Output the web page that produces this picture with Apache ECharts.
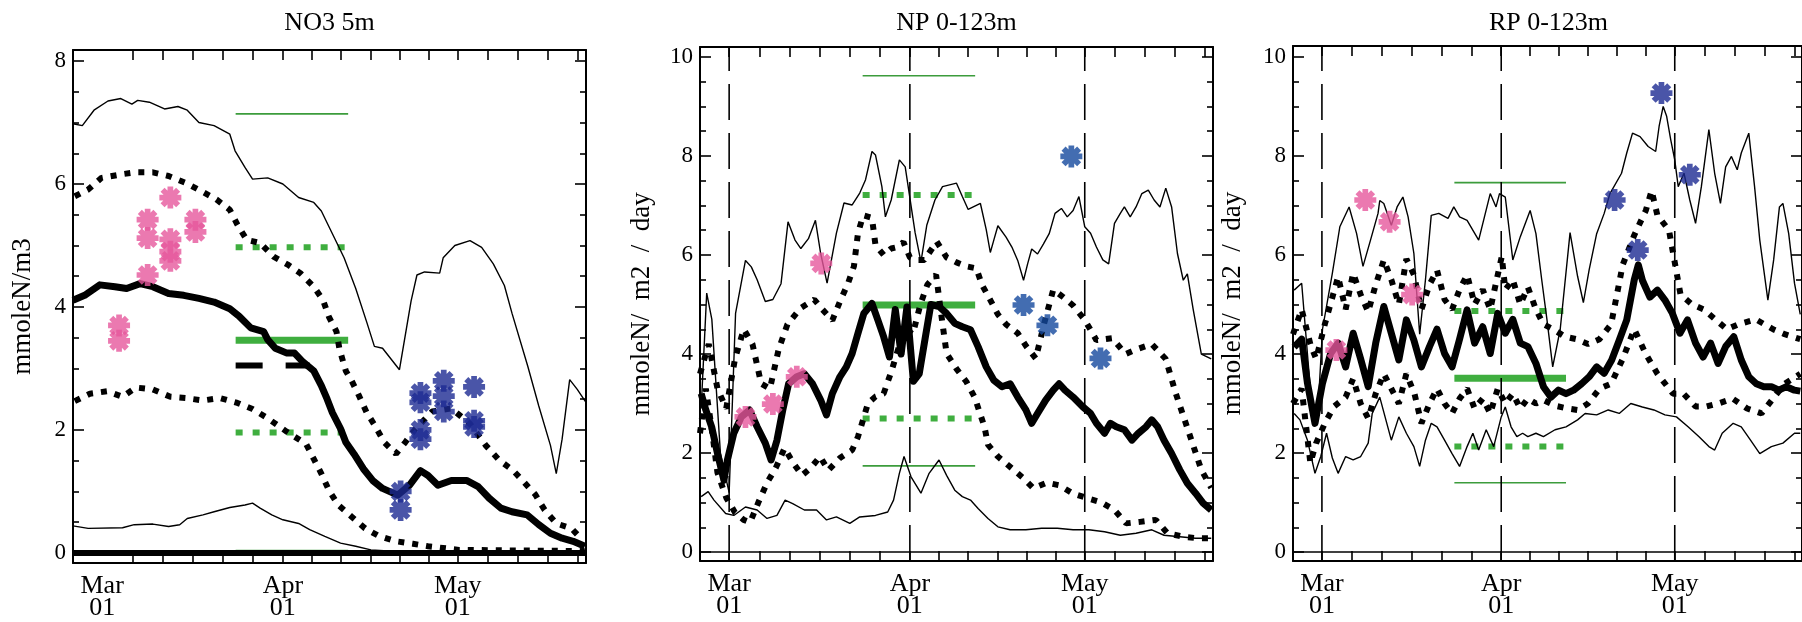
<!DOCTYPE html>
<html>
<head>
<meta charset="utf-8">
<script src="https://cdn.jsdelivr.net/npm/echarts@6/dist/echarts.min.js"></script>
<style>
  html, body { margin: 0; padding: 0; background: #fff; }
  #chart { width: 1802px; height: 622px; }
</style>
</head>
<body>
<div id="chart"></div>
<script>
// ---- time axis (days counted from 1 March) ----
const monthDays = [0, 31, 61];
const monthLabels = ['Mar\n01', 'Apr\n01', 'May\n01'];
const tickDays = [0, 5.17, 10.33, 15.5, 20.67, 25.83, 31, 36, 41, 46, 51, 56, 61, 66.17, 71.33, 76.5, 81.67];
const tickDaysNO3 = [5.17, 10.33, 15.5, 20.67, 25.83, 31, 36, 41, 46, 51, 56, 61, 66.17, 71.33, 76.5, 81.67];

// ---- NO3 5m ----
const no3Max = [[-5,6.98],[-3.4,6.95],[-1.4,7.2],[1,7.35],[3.2,7.39],[5.1,7.3],[6.1,7.36],[8.1,7.33],[10.7,7.22],[13,7.26],[14.6,7.2],[16.6,7.0],[19.2,6.95],[21.9,6.81],[22.8,6.54],[24.5,6.27],[25.8,6.08],[28.4,6.1],[31,6.0],[33.7,5.78],[36.3,5.7],[37.6,5.56],[39.6,5.17],[41.5,4.8],[43.5,4.3],[45.4,3.75],[46.7,3.36],[48.1,3.33],[51,2.98],[53,4.1],[54,4.52],[55.3,4.57],[57.9,4.55],[58.5,4.8],[60.5,5.0],[63.1,5.08],[65.1,4.97],[67.1,4.7],[69,4.35],[70.3,3.9],[73,3.04],[74.9,2.39],[76.9,1.75],[77.9,1.29],[78.9,1.85],[80.2,2.82],[81.5,2.66],[83,2.45]];
const no3Min = [[-5,0.44],[-2.4,0.40],[3.5,0.41],[5.5,0.46],[8.7,0.47],[11.4,0.43],[13.3,0.46],[14.6,0.56],[17.3,0.62],[19.2,0.67],[21.9,0.74],[24.5,0.78],[25.8,0.81],[27.1,0.73],[29.1,0.62],[31,0.54],[33.7,0.48],[35.6,0.38],[38.2,0.27],[40.9,0.16],[43.5,0.11],[46.1,0.05],[51.3,0.02],[54.6,0],[83,0]];
const no3Hi = [[-4.7,5.8],[-2.4,5.91],[-0.1,6.1],[3.5,6.16],[5.8,6.19],[8.7,6.19],[11.4,6.13],[14.3,6.02],[16.9,5.89],[19.6,5.75],[21.9,5.58],[23.2,5.34],[24.8,5.09],[27.1,5.04],[29.4,4.82],[32,4.68],[34,4.55],[36.3,4.33],[37.9,4.11],[38.9,3.84],[40.2,3.6],[40.7,3.32],[41.8,2.96],[42.8,2.8],[44.1,2.55],[45.4,2.28],[46.8,2.07],[48.4,1.8],[50.4,1.61],[52,1.8],[53.6,2.0],[56.6,2.3],[59.9,2.35],[63.1,2.1],[65.8,1.75],[68.1,1.51],[70.4,1.35],[72.3,1.16],[74.3,0.95],[75.9,0.7],[77.9,0.48],[80.5,0.4],[82.1,0.24]];
const no3Lo = [[-4.7,2.47],[-2.1,2.59],[0.9,2.63],[3.5,2.54],[5.8,2.69],[8.7,2.66],[11.7,2.54],[14.3,2.52],[17.3,2.48],[20.2,2.52],[23.2,2.44],[25.8,2.34],[28.4,2.19],[31.7,1.97],[35,1.77],[36.3,1.53],[37.6,1.29],[38.9,1.02],[40.5,0.78],[42.8,0.59],[45.1,0.4],[47.4,0.28],[50.4,0.19],[53.3,0.15],[55.9,0.11],[61.2,0.05],[82.8,0.03]];
const no3Med = [[-5,4.11],[-3,4.19],[-0.4,4.36],[2.2,4.33],[4.2,4.3],[6.5,4.38],[8.7,4.33],[11.4,4.22],[14,4.19],[16.6,4.14],[19.2,4.08],[21.9,3.97],[23.5,3.85],[25.5,3.66],[27.7,3.6],[28.4,3.47],[29.7,3.33],[31.7,3.25],[33,3.25],[34.3,3.12],[36.3,2.96],[37.6,2.72],[38.6,2.5],[39.5,2.28],[40.9,2.02],[41.8,1.8],[43.2,1.61],[44.8,1.37],[46.4,1.18],[48.1,1.05],[50.7,0.94],[52.7,1.1],[54.6,1.34],[55.9,1.26],[57.6,1.1],[59.9,1.18],[62.5,1.18],[64.5,1.08],[66.4,0.89],[68.4,0.73],[70.3,0.67],[72.9,0.62],[74.9,0.46],[76.9,0.32],[78.9,0.24],[80.8,0.19],[82.8,0.11]];
const no3Ref = [[22.9,3.05],[35.6,3.05]];
const no3Green = [7.14, 4.97, 3.46, 1.96, 0.04];
const no3Pink = [[2.9,3.7],[2.9,3.45],[7.8,5.42],[7.8,5.12],[7.8,4.52],[11.7,5.78],[11.7,5.1],[11.7,4.9],[11.7,4.75],[16,5.42],[16,5.22]];
const no3Blue = [[51.2,1.0],[51.2,0.7],[54.6,2.6],[54.6,2.45],[54.6,2.0],[54.6,1.85],[58.6,2.8],[58.6,2.55],[58.6,2.3],[63.8,2.7],[63.8,2.15],[63.8,2.05]];

// ---- NP 0-123m ----
const npMax = [[-4.8,2.9],[-3.85,5.23],[-2.97,4.7],[-1.5,2.0],[0,1.2],[1.1,4.82],[2.8,5.89],[3.8,5.76],[4.8,5.5],[6.2,5.06],[7.5,5.1],[8.9,5.42],[10.1,6.67],[11.3,6.3],[12.3,6.13],[13.6,6.33],[14.8,6.7],[15.7,6.03],[16.8,5.43],[18.4,6.44],[19.7,7.05],[21.1,7.01],[22.4,7.25],[23.4,7.52],[24.5,8.09],[25.1,8.02],[26.2,7.38],[26.8,6.77],[27.8,7.11],[29.2,7.92],[30.2,7.78],[31.9,6.45],[32.9,5.86],[33.9,6.6],[35.3,7.11],[36.6,7.38],[39,7.45],[40,7.18],[41,6.92],[43.1,7.04],[44.1,6.51],[44.8,6.05],[45.4,6.3],[46.1,6.59],[47.5,6.36],[48.5,6.16],[49.5,5.89],[50.5,5.49],[51.2,5.82],[51.9,6.12],[52.9,6.02],[53.9,6.22],[54.9,6.43],[55.9,6.84],[57,6.94],[58,6.77],[59,6.9],[60,7.18],[61,6.57],[62,6.44],[63,6.16],[64.1,5.9],[65.1,5.82],[66.1,6.64],[67.1,6.84],[67.8,6.97],[68.8,6.77],[69.8,6.97],[70.8,7.24],[71.9,7.31],[72.9,7.11],[73.9,6.97],[74.9,7.35],[75.9,6.97],[76.9,6.03],[77.9,5.49],[78.6,5.62],[79.6,4.9],[81,4.0],[82.7,3.9]];
const npMin = [[-4.8,1.12],[-3.6,1.22],[-2.6,1.05],[-0.6,0.78],[0.8,0.74],[2.8,0.91],[4.8,0.85],[6.5,0.68],[8.2,0.74],[9.6,1.05],[10.9,0.98],[12.9,0.85],[15,0.85],[16.7,0.65],[18.4,0.71],[20.7,0.58],[22.4,0.71],[25.1,0.74],[27.2,0.81],[28.2,1.05],[29.2,1.59],[30,1.93],[31.2,1.52],[32.9,1.19],[34.3,1.59],[36,1.86],[37.3,1.55],[38.7,1.25],[40,1.12],[41.4,1.05],[42.7,0.88],[44.4,0.68],[46.1,0.51],[48.2,0.45],[50.9,0.45],[53.6,0.48],[56.3,0.48],[59,0.45],[61.7,0.45],[64.4,0.41],[67.1,0.34],[69.8,0.38],[72.5,0.45],[74.6,0.34],[77.3,0.31],[80,0.28],[82.7,0.28]];
const npHi = [[-5,3.6],[-3.5,4.2],[-2,3.3],[-0.5,2.9],[1,3.9],[2.5,4.5],[4,4.2],[5.5,3.4],[7,3.3],[8.5,4.1],[10,4.6],[12.3,4.93],[14.6,5.1],[16,4.9],[17.7,4.68],[19,5.06],[20.4,5.43],[21.4,5.77],[22.1,6.44],[23,6.8],[24.5,6.75],[25.1,6.2],[26.5,6.0],[27.8,6.13],[28.9,6.16],[29.9,6.26],[31,5.95],[32,5.9],[33.5,5.9],[35.6,6.27],[37.3,5.95],[39,5.85],[40.7,5.77],[42.4,5.73],[43.4,5.39],[44.8,5.09],[46.1,4.8],[47.5,4.6],[49.5,4.42],[51,4.15],[52.6,3.91],[54,4.6],[55.6,5.3],[57.3,5.15],[59,4.98],[61,4.69],[63,4.28],[65.7,4.32],[68,4.0],[70,4.1],[72.5,4.2],[74.9,3.9],[76.6,3.21],[79.3,2.26],[81,1.66],[82.7,1.3]];
const npLo = [[-5,2.4],[-4,3.3],[-3,2.5],[-2,1.6],[-0.5,1.1],[1,0.8],[2.5,0.65],[3.6,0.6],[5,1.0],[6.5,1.4],[8,1.7],[9.5,2.1],[11,1.8],[12.5,1.55],[14,1.7],[15.6,1.93],[17,1.65],[19,1.9],[21.1,2.06],[22.1,2.33],[23.8,3.0],[25.1,3.14],[26.5,3.2],[27.8,3.64],[29,4.1],[30.3,4.5],[31.5,4.4],[32.8,5.0],[34,5.4],[35.5,5.6],[36.5,4.7],[37.3,4.01],[39,3.7],[40.7,3.44],[42.1,3.13],[43.8,2.53],[44.4,2.17],[46.1,1.93],[48.5,1.69],[50.5,1.49],[52.2,1.29],[54.5,1.4],[56.6,1.35],[59,1.18],[61.7,1.08],[63.7,1.01],[66.1,0.85],[68.1,0.58],[70.5,0.61],[73.2,0.65],[75.2,0.38],[77.9,0.31],[80.3,0.28],[82.7,0.28]];
const npMed = [[-4.8,3.2],[-4,2.87],[-3,2.53],[-2,1.99],[-0.9,1.45],[-0.3,1.86],[0.8,2.4],[2.1,2.73],[3.5,2.87],[4.8,2.53],[6.2,2.2],[7.2,1.86],[8.2,2.26],[9.2,2.87],[10.2,3.4],[11.6,3.54],[12.9,3.6],[14.3,3.4],[15.7,3.07],[16.7,2.77],[17.7,3.2],[19,3.54],[20.1,3.74],[21.1,4.01],[22.1,4.42],[23.1,4.82],[24.5,5.02],[25.5,4.69],[26.5,4.35],[27.5,3.94],[28.5,4.9],[29.5,4.0],[30.5,4.95],[31.6,3.45],[32.6,3.6],[33.6,4.3],[34.6,5.0],[36,4.96],[37.3,4.82],[38.7,4.62],[40,4.55],[41.4,4.49],[42.7,4.15],[44.1,3.74],[45.4,3.47],[46.8,3.34],[48.2,3.4],[49.5,3.13],[50.9,2.87],[51.9,2.6],[52.9,2.8],[54.3,3.07],[55.6,3.27],[56.6,3.4],[57.6,3.27],[59,3.13],[60.7,2.93],[62,2.8],[63,2.6],[64.4,2.4],[65.4,2.6],[66.4,2.53],[67.8,2.47],[69.1,2.26],[70.2,2.4],[71.5,2.53],[72.5,2.67],[73.5,2.53],[74.6,2.26],[75.9,1.99],[77.3,1.66],[78.6,1.39],[80,1.19],[81.3,0.99],[82.7,0.85]];
const npGreen = [9.62, 7.21, 4.99, 2.7, 1.74];
const npPink = [[2.8,2.73],[7.5,2.99],[11.6,3.54],[15.8,5.83]];
const npBlue = [[50.5,4.99],[54.6,4.58],[58.7,7.99],[63.7,3.91]];

// ---- RP 0-123m ----
const rpMax = [[-4.8,5.29],[-3.5,5.43],[-1.8,3.0],[-0.8,2.6],[0.1,4.5],[1.8,5.63],[3.1,6.57],[4.7,6.97],[6,6.43],[7.1,5.77],[8.4,6.3],[9.7,6.84],[10,7.1],[10.7,7.04],[12,6.6],[13,6.97],[14,7.17],[14.9,6.77],[15.9,6.03],[16.9,4.4],[17.9,5.5],[18.9,6.8],[20.2,6.84],[21.8,6.74],[22.8,6.97],[23.8,6.77],[25.1,6.7],[27.1,6.3],[29.1,7.24],[30.1,6.97],[30.7,7.24],[31.7,7.17],[33,5.9],[34.3,6.37],[36,6.9],[37,6.43],[38,5.5],[38.9,4.7],[39.9,3.74],[41.2,4.5],[42.9,6.45],[44.2,5.57],[45.2,5.04],[46.2,5.7],[47.5,6.43],[48.8,6.84],[49.8,7.24],[51.8,7.65],[52.7,8.06],[53.7,8.46],[55,8.39],[56.4,8.19],[57.7,8.09],[58.3,8.6],[59,9.0],[59.6,8.8],[60.3,8.33],[61,7.92],[61.6,7.38],[62.6,7.65],[63.6,7.11],[64.6,6.64],[65.6,7.38],[66.9,8.53],[67.9,7.65],[68.9,7.04],[69.8,7.78],[70.8,7.99],[71.8,7.72],[72.5,8.06],[73.8,8.46],[74.8,7.38],[75.7,6.3],[77.1,5.09],[78.1,5.9],[79.1,6.97],[79.7,7.04],[80.7,6.43],[81.7,5.43],[82.7,4.8]];
const rpMin = [[-4.8,2.8],[-3.8,2.67],[-2.5,2.26],[-1.2,1.59],[-0.2,1.93],[0.8,2.4],[1.8,1.9],[2.8,1.59],[4.1,1.93],[5.4,1.86],[6.7,1.93],[8,2.2],[8.7,2.8],[10,3.13],[12,2.26],[13.3,2.73],[14.6,2.4],[15.9,2.13],[16.9,1.73],[17.9,2.26],[18.9,2.6],[19.9,2.53],[21.2,2.26],[22.5,1.99],[23.8,1.73],[25.1,2.13],[26.1,2.4],[27.1,2.06],[28.4,2.47],[29.7,2.13],[31,2.73],[31.7,2.93],[32.7,2.53],[33.7,2.33],[34.7,2.4],[35.6,2.33],[37,2.4],[38.3,2.33],[40.3,2.47],[42.2,2.53],[44.2,2.67],[45.5,2.8],[47.5,2.77],[49.5,2.87],[51.4,2.8],[53.4,3.0],[55.4,2.93],[57.4,2.87],[59.3,2.77],[61.3,2.73],[63.3,2.53],[65.2,2.33],[66.9,2.13],[67.9,2.06],[69.2,2.4],[71.1,2.6],[72.5,2.53],[74.1,2.26],[75.7,1.99],[77.7,2.13],[79.7,2.2],[81.7,2.4],[82.7,2.4]];
const rpHi = [[-5,4.4],[-3.5,4.9],[-2,4.2],[-1,3.9],[0.5,4.6],[2.8,5.56],[4.1,4.9],[5.4,5.63],[6.7,5.2],[8,4.85],[9.3,5.4],[10.7,5.9],[12,5.5],[13.3,5.0],[14.6,5.92],[15.9,5.6],[17.2,4.9],[18.6,5.4],[19.9,5.69],[21.2,5.1],[22.5,4.9],[23.8,5.3],[25.1,5.6],[26.4,5.0],[27.8,5.3],[29.1,4.9],[30.4,5.6],[31.1,5.97],[31.7,5.3],[33,5.5],[34.3,5.0],[35.6,5.35],[37,4.9],[38.3,4.6],[40,4.5],[42,4.35],[44,4.3],[46,4.2],[48,4.3],[50,4.6],[52,5.8],[54,6.4],[56,6.9],[57,7.3],[58,6.8],[60,6.5],[62,5.2],[64,5.0],[66,4.9],[68,4.7],[70,4.5],[72,4.6],[75,4.7],[78,4.5],[80,4.4],[82.7,4.3]];
const rpLo = [[-5,3.0],[-3.5,3.3],[-2,1.8],[-1,2.2],[0.5,2.6],[2.1,2.94],[4.1,3.13],[5.4,3.5],[6.7,3.0],[8,2.7],[9.3,3.2],[10.7,3.6],[12,3.3],[13.3,3.0],[14.6,3.6],[16,3.2],[17.2,2.6],[18.6,3.0],[19.9,3.3],[21.2,3.0],[22.5,2.8],[23.8,3.1],[25.1,3.3],[26.4,2.9],[27.8,3.1],[29.1,2.8],[30.4,3.3],[31.7,3.0],[33,3.2],[34.3,2.9],[35.6,3.1],[37,3.0],[38.3,3.07],[40.5,2.95],[42.5,2.9],[44.2,2.87],[46,3.0],[48,3.3],[50,3.4],[52,3.9],[54,4.5],[56,4.0],[58,3.6],[60.7,3.2],[62.5,3.2],[64.6,2.94],[66.5,2.94],[68.5,3.0],[71,3.1],[73.5,2.9],[76,2.8],[78,3.1],[80,3.4],[82.7,3.6]];
const rpMed = [[-4.8,4.14],[-3.5,4.3],[-2.5,3.41],[-1.2,2.6],[0.1,3.41],[1.5,4.01],[2.8,4.22],[4.1,3.74],[5.4,4.42],[6.7,3.9],[8,3.34],[9.3,4.22],[10.7,4.96],[12,4.42],[13.3,3.88],[14.6,4.69],[15.9,4.28],[17.2,3.74],[18.6,4.15],[19.9,4.5],[21.2,4.01],[22.5,3.74],[23.8,4.3],[25.1,4.89],[26.4,4.22],[27.8,4.55],[29.1,4.01],[30.4,4.82],[31.7,4.42],[33,4.7],[34.3,4.22],[35.6,4.15],[37,3.81],[38.3,3.34],[39.6,3.13],[40.9,3.27],[42.2,3.2],[43.5,3.27],[44.9,3.4],[46.2,3.54],[47.5,3.74],[48.8,3.61],[50.1,3.88],[51.4,4.28],[52.7,4.69],[54,5.5],[54.7,5.8],[55.4,5.49],[56.7,5.15],[58,5.29],[59.3,5.09],[60.6,4.82],[61.9,4.42],[63.2,4.69],[64.6,4.22],[65.9,3.94],[67.2,4.22],[68.5,3.81],[69.8,4.15],[71.2,4.35],[72.5,3.88],[73.8,3.54],[75.1,3.4],[76.4,3.34],[77.7,3.34],[79,3.27],[80.3,3.34],[81.7,3.27],[82.7,3.25]];
const rpGreen = [7.46, 4.87, 3.51, 2.13, 1.4];
const rpPink = [[2.5,4.08],[7.5,7.11],[11.7,6.67],[15.6,5.2]];
const rpBlue = [[50.6,7.11],[54.6,6.1],[58.7,9.27],[63.6,7.62]];

// period covered by the green reference levels
const greenSpan = [22.9, 42.2];
const zeroLine = [[-5,0],[83,0]];

// ---- layout and styling ----
const FONT = 'Liberation Serif';
const X_MIN = -5, X_MAX = 83;
const ASTERISK = 'path://M37,0H63V100H37Z M0,37H100V63H0Z M5.4,23.8L23.8,5.4L94.6,76.2L76.2,94.6Z M5.4,76.2L76.2,5.4L94.6,23.8L23.8,94.6Z';

const panels = [
  { title: 'NO3 5m', yName: 'mmoleN/m3', left: 73, top: 50, width: 513, height: 513, nameX: 23,
    yMin: -0.163, yMax: 8.179, yTop: 8, xTicks: tickDaysNO3, monthLines: false,
    max: no3Max, min: no3Min, hi: no3Hi, lo: no3Lo, med: no3Med, green: no3Green,
    pink: no3Pink, blue: no3Blue, blueColor: '#1d2a92', zeroWidth: 6 },
  { title: 'NP 0-123m', yName: 'mmoleN/\u2002m2\u2002/\u2002day', left: 700, top: 47, width: 513, height: 514, nameX: 642,
    yMin: -0.18, yMax: 10.2, yTop: 10, xTicks: tickDays, monthLines: true,
    max: npMax, min: npMin, hi: npHi, lo: npLo, med: npMed, green: npGreen,
    pink: npPink, blue: npBlue, blueColor: '#14489e', zeroWidth: 1.5 },
  { title: 'RP 0-123m', yName: 'mmoleN/\u2002m2\u2002/\u2002day', left: 1293, top: 46, width: 511, height: 515, nameX: 1233,
    yMin: -0.18, yMax: 10.22, yTop: 10, xTicks: tickDays, monthLines: true,
    max: rpMax, min: rpMin, hi: rpHi, lo: rpLo, med: rpMed, green: rpGreen,
    pink: rpPink, blue: rpBlue, blueColor: '#1d2a92', zeroWidth: 1.5 }
];

const grids = [], xAxes = [], yAxes = [], series = [], graphics = [];
const axisLineStyle = { color: '#000', width: 2 };
const tickStyle = { color: '#000', width: 1.6 };

panels.forEach((p, g) => {
  grids.push({ left: p.left, top: p.top, width: p.width, height: p.height, containLabel: false });

  const majors = [], minors = [];
  for (let v = 0; v <= p.yTop + 1e-9; v += 0.5) {
    (Math.abs(v % 2) < 1e-9 ? majors : minors).push(v);
  }

  const xBase = { gridIndex: g, type: 'value', min: X_MIN, max: X_MAX, splitLine: { show: false },
    axisLine: { show: true, onZero: false, lineStyle: axisLineStyle },
    axisTick: { show: true, inside: true, length: 10, customValues: p.xTicks, lineStyle: tickStyle } };
  xAxes.push(Object.assign({}, xBase, { position: 'bottom',
    axisLabel: { show: true, customValues: monthDays, margin: 12, color: '#000', fontFamily: FONT, fontSize: 26, lineHeight: 22,
      formatter: v => { const i = monthDays.findIndex(m => Math.abs(m - v) < 1e-6); return i >= 0 ? monthLabels[i] : ''; } } }));
  xAxes.push(Object.assign({}, xBase, { position: 'top', axisLabel: { show: false } }));

  const yBase = { gridIndex: g, type: 'value', min: p.yMin, max: p.yMax, splitLine: { show: false } };
  const yTicks = (pos, vals, len, labels) => Object.assign({}, yBase, { position: pos,
    axisLine: { show: len > 8, onZero: false, lineStyle: axisLineStyle },
    axisTick: { show: true, inside: true, length: len, customValues: vals, lineStyle: tickStyle },
    axisLabel: labels ? { show: true, customValues: vals, margin: 7, color: '#000', fontFamily: FONT, fontSize: 23 } : { show: false } });
  yAxes.push(yTicks('left', majors, 11, true));
  yAxes.push(yTicks('right', majors, 11, false));
  yAxes.push(yTicks('left', minors, 6, false));
  yAxes.push(yTicks('right', minors, 6, false));

  const xi = g * 2, yi = g * 4;
  const line = (data, style, z) => ({ type: 'line', xAxisIndex: xi, yAxisIndex: yi, data, showSymbol: false,
    symbol: 'none', silent: true, z: z, lineStyle: style, animation: false });

  // green reference levels: thin max, dotted upper, thick central, dotted lower, thin min
  const greenStyles = [
    { color: '#3c9c3c', width: 1.6 },
    { color: '#3fae3f', width: 6, type: [7, 10], cap: 'butt' },
    { color: '#3fae3f', width: 7 },
    { color: '#3fae3f', width: 6, type: [7, 10], cap: 'butt' },
    { color: '#3c9c3c', width: 1.6 }
  ];
  p.green.forEach((lev, k) => {
    series.push(line([[greenSpan[0], lev], [greenSpan[1], lev]], greenStyles[k], 2));
  });

  if (p.monthLines) {
    monthDays.forEach(m => {
      series.push(line([[m, p.yMin], [m, p.yMax]], { color: '#000', width: 1.6, type: [36, 13], cap: 'butt' }, 3));
    });
  }

  series.push(line(zeroLine, { color: '#000', width: p.zeroWidth }, 3));
  series.push(line(p.max, { color: '#000', width: 1.4 }, 4));
  series.push(line(p.min, { color: '#000', width: 1.4 }, 4));
  series.push(line(p.hi, { color: '#000', width: 6, type: [6, 8], cap: 'butt' }, 5));
  series.push(line(p.lo, { color: '#000', width: 6, type: [6, 8], cap: 'butt' }, 5));
  series.push(line(p.med, { color: '#000', width: 7, join: 'round' }, 6));
  if (g === 0) {
    series.push(line(no3Ref, { color: '#000', width: 6, type: [27, 23], cap: 'butt' }, 5));
  }

  const scatter = (data, color) => ({ type: 'scatter', xAxisIndex: xi, yAxisIndex: yi, data,
    symbol: ASTERISK, symbolSize: 22, itemStyle: { color }, z: 10, silent: true, animation: false });
  series.push(scatter(p.pink, '#e6579c'));
  series.push(scatter(p.blue, p.blueColor));

  // panel title and y-axis name
  graphics.push({ type: 'text', x: p.left + p.width / 2, y: 23, silent: true,
    style: { text: p.title, font: '26px "' + FONT + '"', fill: '#000', textAlign: 'center', textVerticalAlign: 'middle' } });
  graphics.push({ type: 'text', x: p.nameX, y: p.top + p.height / 2, rotation: Math.PI / 2, silent: true,
    style: { text: p.yName, font: '27px "' + FONT + '"', fill: '#000', textAlign: 'center', textVerticalAlign: 'middle' } });
});

const chart = echarts.init(document.getElementById('chart'), null, { renderer: 'canvas' });
chart.setOption({
  animation: false,
  backgroundColor: '#fff',
  grid: grids,
  xAxis: xAxes,
  yAxis: yAxes,
  series: series,
  graphic: graphics
});
</script>
</body>
</html>
